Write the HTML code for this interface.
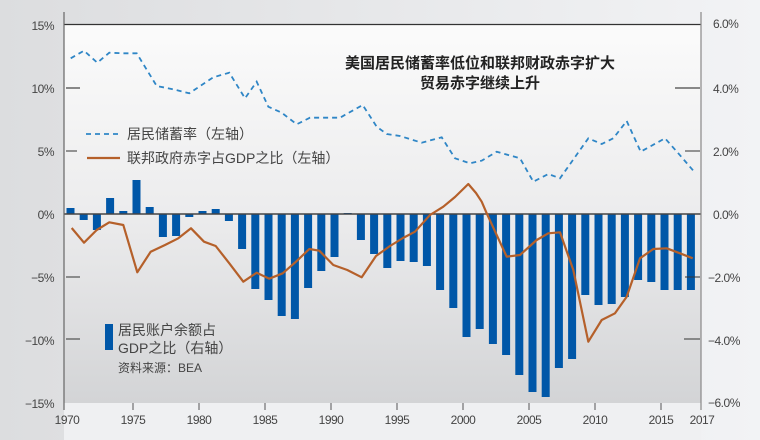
<!DOCTYPE html>
<html><head><meta charset="utf-8"><style>
html,body{margin:0;padding:0;width:760px;height:440px;overflow:hidden;background:#e3e4e6}
text{font-family:"Liberation Sans","Noto Sans CJK SC",sans-serif}
</style></head><body>
<svg width="760" height="440" xmlns="http://www.w3.org/2000/svg">
<defs>
<linearGradient id="bg" x1="0" y1="0" x2="1" y2="0"><stop offset="0" stop-color="#dcdddf"/><stop offset="1" stop-color="#f2f3f5"/></linearGradient>
<linearGradient id="pl" x1="0" y1="0" x2="0" y2="1"><stop offset="0" stop-color="#fbfbfb"/><stop offset="0.5" stop-color="#ececed"/><stop offset="1" stop-color="#d3d4d6"/></linearGradient>
</defs>
<rect width="760" height="440" fill="url(#bg)"/>
<rect x="64" y="24" width="637" height="379" fill="url(#pl)"/>
<rect x="64" y="403" width="637" height="37" fill="#eff0f2"/>
<line x1="64" y1="24.5" x2="701" y2="24.5" stroke="#333" stroke-width="1.2"/>
<g fill="#0057a8" id="bars"></g>
<line x1="64" y1="214" x2="701" y2="214" stroke="#444" stroke-width="1.5"/>
<polyline id="def" fill="none" stroke="#b5602a" stroke-width="2.2" stroke-linejoin="round"/>
<polyline id="sav" fill="none" stroke="#2f86c6" stroke-width="1.8" stroke-dasharray="5,4"/>
<line x1="64" y1="12" x2="64" y2="410" stroke="#666" stroke-width="1.2"/>
<line x1="701" y1="12" x2="701" y2="410" stroke="#888" stroke-width="1.2"/>
<g stroke="#333" stroke-width="1"><line x1="66" y1="88" x2="80" y2="88" stroke="#888" stroke-width="2"/><line x1="66" y1="151" x2="77" y2="151"/><line x1="66" y1="277" x2="80" y2="277"/><line x1="66" y1="339" x2="80" y2="339"/>
<line x1="675" y1="88" x2="700" y2="88" stroke="#888" stroke-width="2"/><line x1="685" y1="151" x2="700" y2="151"/><line x1="685" y1="277" x2="700" y2="277"/><line x1="684" y1="339" x2="700" y2="339"/></g>
<g font-size="12" fill="#444" text-anchor="end" letter-spacing="-0.5">
<text x="54" y="30">15%</text><text x="54" y="93">10%</text><text x="54" y="156">5%</text><text x="54" y="219">0%</text><text x="54" y="282">−5%</text><text x="54" y="345">−10%</text><text x="54" y="408">−15%</text></g>
<g font-size="12" fill="#444" letter-spacing="-0.5">
<text x="713" y="28">6.0%</text><text x="713" y="93">4.0%</text><text x="713" y="156">2.0%</text><text x="713" y="219">0.0%</text><text x="708" y="282">−2.0%</text><text x="708" y="345">−4.0%</text><text x="708" y="407">−6.0%</text></g>
<g id="xt" stroke="#555"></g>
<g font-size="12" fill="#444" text-anchor="middle" letter-spacing="-0.5" id="xl"></g>
<g font-size="15" font-weight="bold" fill="#222" text-anchor="middle"><text x="480" y="68">美国居民储蓄率低位和联邦财政赤字扩大</text><text x="480" y="88">贸易赤字继续上升</text></g>
<line x1="86" y1="134" x2="120" y2="134" stroke="#2f86c6" stroke-width="1.8" stroke-dasharray="5,4"/>
<text x="127" y="139" font-size="14" fill="#444">居民储蓄率（左轴）</text>
<line x1="87" y1="158" x2="120" y2="158" stroke="#b5602a" stroke-width="2.2"/>
<text x="127" y="163" font-size="14" fill="#444">联邦政府赤字占GDP之比（左轴）</text>
<rect x="105" y="324" width="8" height="26" fill="#0057a8"/>
<text x="118" y="335" font-size="14" fill="#444">居民账户余额占</text>
<text x="118" y="353" font-size="14" fill="#444">GDP之比（右轴）</text>
<text x="118" y="372" font-size="12" fill="#444">资料来源：BEA</text>
</svg>
<script>
var d=[6,-6,-16,16,3,34,7,-23,-22,-3,3,5,-7,-35,-75,-86,-102,-105,-74,-57,-43,1,-26,-40,-54,-47,-48,-52,-76,-94,-123,-115,-130,-141,-161,-178,-183,-154,-145,-81,-91,-90,-83,-66,-68,-76,-76,-76];
var g=document.getElementById('bars'),s='';
d.forEach(function(v,i){var x=70.5+i*13.2-4;var y=v>0?214-v:214;s+='<rect x="'+x.toFixed(1)+'" y="'+y+'" width="8" height="'+Math.abs(v)+'"/>';});
g.innerHTML=s;
document.getElementById('def').setAttribute('points',"71.7,228 84,242.7 96.7,230 109.3,222.3 123.3,225 137.3,272.3 150.7,251.7 165,245 178.3,238.3 191,228.3 204,241.7 215.7,246 229.3,263.3 243.3,281.7 256.7,272.7 269.3,278.7 282.7,273.3 296,261.7 309.3,249 319.3,250.7 333.3,265 347.3,270 361.7,277.3 376,256 390,246 403,238 415,231.7 430,215 443.3,206.7 455,197 468.3,184 476,193 481.7,201.7 486.7,213.3 506.7,256.7 520,255 536.7,240 548.3,233.3 560,232.3 573.3,270 588.3,341.7 601.7,320 615,313.3 626.7,296.7 640,258.3 653.3,249 666.7,248.3 680,253.3 692.7,258.3");
document.getElementById('sav').setAttribute('points',"70.7,58.3 84,50.7 97.3,62.7 109.3,52.7 123.3,53.3 136.7,53.3 156.7,86 173.3,89.3 189.3,93.3 213.3,77.3 229.3,72.7 245,98.3 256.7,81.7 268.3,106.7 281.7,112.7 296.7,124.3 310,117.7 340,117.7 362.7,105 376.7,126.7 386.7,134 400,136 421.7,142.7 441.7,137.3 455,158.3 470,163.3 481.7,160.7 496.7,151.7 520,158.3 533.3,181.7 548.3,174 560,178.3 588.3,138.3 601.7,144 613.3,138.3 626.7,121 640.7,151.7 665,138.3 678.3,153.3 693.3,170.7");
var t='',l='';
for(var y=1970;y<=2015;y+=5){var x=67+(y-1970)*13.2;if(y>1970)t+='<line x1="'+x+'" y1="403" x2="'+x+'" y2="410"/>';l+='<text x="'+x+'" y="424">'+y+'</text>';}
l+='<text x="702" y="424">2017</text>';
document.getElementById('xt').innerHTML=t;document.getElementById('xl').innerHTML=l;
</script>
</body></html>
